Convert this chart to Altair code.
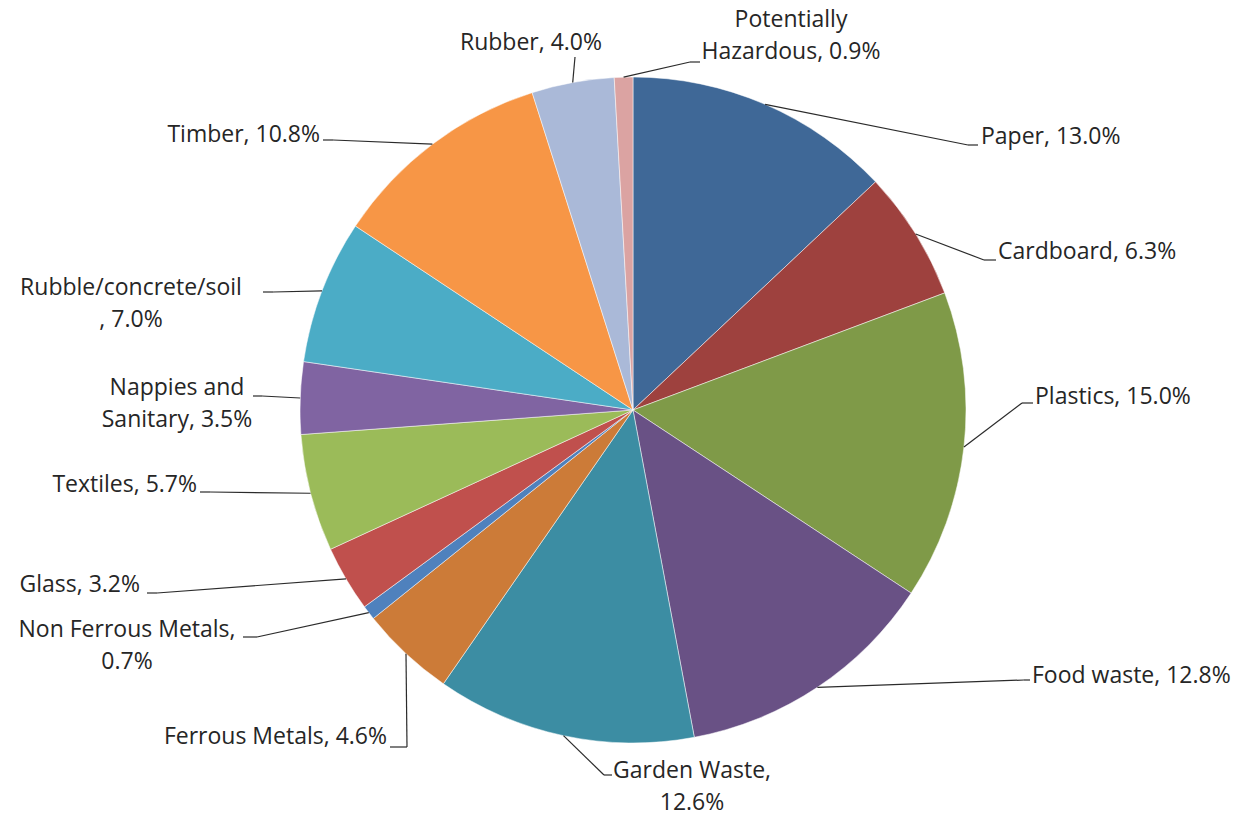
import altair as alt
import pandas as pd

# ---- data ----
categories = ["Paper", "Cardboard", "Plastics", "Food waste", "Garden Waste",
              "Ferrous Metals", "Non Ferrous Metals", "Glass", "Textiles",
              "Nappies and Sanitary", "Rubble/concrete/soil", "Timber", "Rubber",
              "Potentially Hazardous"]
values = [13.0, 6.3, 15.0, 12.8, 12.6, 4.6, 0.7, 3.2, 5.7, 3.5, 7.0, 10.8, 4.0, 0.9]

# label text as displayed (line breaks where the original wraps)
label_names = ["Paper", "Cardboard", "Plastics", "Food waste", "Garden Waste",
               "Ferrous Metals", "Non Ferrous Metals", "Glass", "Textiles",
               "Nappies and\nSanitary", "Rubble/concrete/soil\n", "Timber", "Rubber",
               "Potentially\nHazardous"]
label_seps = [", ", ", ", ", ", ", ", ",\n", ", ", ",\n", ", ", ", ", ", ", ", ", ", ", ", ", ", "]

# ---- style ----
colors = ["#3F6897", "#9E413E", "#7F9A48", "#695185", "#3C8DA3", "#CC7B38",
          "#4F81BD", "#C0504D", "#9BBB59", "#8064A2", "#4BACC6", "#F79646",
          "#AAB9D8", "#DBA3A2"]

CX, CY, R = 633, 410, 333
FONT = "Open Sans"
FS = 23

# label layout: leader elbow, leader end, text anchor of first line (offsets from pie centre), alignment
label_layout = [
    (335, -265, 345, -265, 348, -273, "left"),
    (351, -150, 363, -150, 365, -158, "left"),
    (389, -7, 400, -7, 402, -13, "left"),
    (391, 270, 397, 270, 399, 266, "left"),
    (-29, 365, -21, 365, 59, 361, "center"),
    (-226, 337, -243, 337, -246, 327, "right"),
    (-376, 227, -390, 227, -506, 220, "center"),
    (-476, 183, -486, 183, -493, 175, "right"),
    (-423, 82, -433, 82, -436, 75, "right"),
    (-371, -14, -380, -14, -456, -22, "center"),
    (-360, -118, -370, -118, -502, -122, "center"),
    (-300, -270, -310, -270, -313, -275, "right"),
    (-58, -353, -58, -353, -102, -367, "center"),
    (57, -348, 67, -348, 158, -390, "center"),
]

df = pd.DataFrame({
    "category": categories,
    "value": values,
    "idx": list(range(len(categories))),
    "label": [n + s + f"{v:.1f}%" for n, s, v in zip(label_names, label_seps, values)],
    "ex": [CX + l[0] for l in label_layout],
    "ey": [CY + l[1] for l in label_layout],
    "sx": [CX + l[2] for l in label_layout],
    "sy": [CY + l[3] for l in label_layout],
    "tx": [CX + l[4] for l in label_layout],
    "ty": [CY + l[5] for l in label_layout],
    "align": [l[6] for l in label_layout],
})

arcs = alt.Chart(df).mark_arc(radius=R, stroke="white", strokeWidth=0.5).encode(
    theta=alt.Theta("value:Q", stack=True),
    color=alt.Color("category:N", scale=alt.Scale(domain=categories, range=colors), legend=None),
    order=alt.Order("idx:Q"),
    x=alt.value(CX),
    y=alt.value(CY),
)

base = alt.Chart(df).transform_window(
    cum="sum(value)", sort=[alt.SortField("idx")], frame=[None, 0]
).transform_joinaggregate(
    total="sum(value)"
).transform_calculate(
    mid="(datum.cum - datum.value / 2) / datum.total * 2 * PI",
    x0=f"{CX} + {R} * sin(datum.mid)",
    y0=f"{CY} - {R} * cos(datum.mid)",
)

lead1 = base.mark_rule(color="#2b2b2b", strokeWidth=1.2).encode(
    x=alt.X("x0:Q", scale=None, axis=None),
    y=alt.Y("y0:Q", scale=None, axis=None),
    x2="ex:Q",
    y2="ey:Q",
)
lead2 = base.mark_rule(color="#2b2b2b", strokeWidth=1.2).encode(
    x=alt.X("ex:Q", scale=None, axis=None),
    y=alt.Y("ey:Q", scale=None, axis=None),
    x2="sx:Q",
    y2="sy:Q",
)

texts = []
for a in ["left", "right", "center"]:
    texts.append(
        base.transform_filter(f"datum.align == '{a}'").mark_text(
            font=FONT, fontSize=FS, color="#262626", align=a, baseline="middle",
            lineBreak="\n", lineHeight=32,
        ).encode(
            x=alt.X("tx:Q", scale=None, axis=None),
            y=alt.Y("ty:Q", scale=None, axis=None),
            text="label:N",
        )
    )

chart = alt.layer(arcs, lead1, lead2, *texts).properties(
    width=1250, height=816, padding=0, autosize="none", background="white"
).configure_view(stroke=None)

chart.save("out.html", embed_options={"renderer": "svg", "actions": False})
